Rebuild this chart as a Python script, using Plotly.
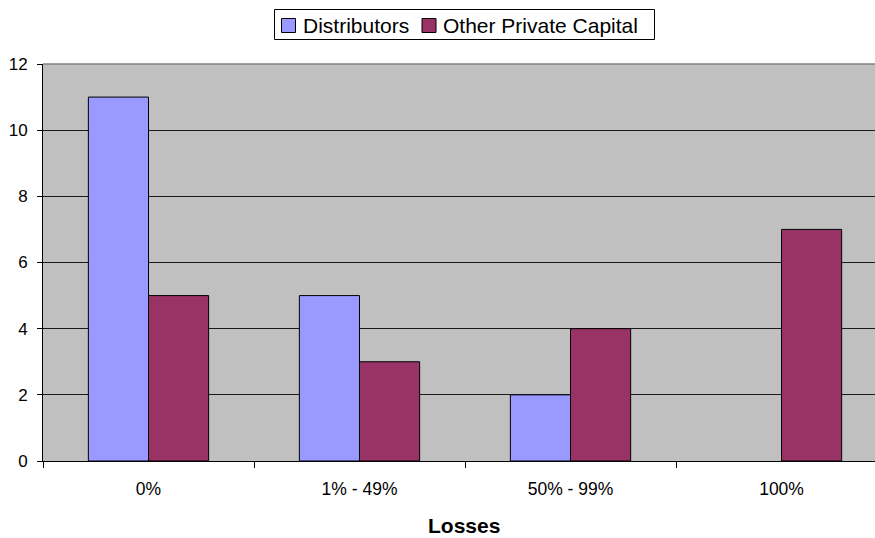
import plotly.graph_objects as go

categories = ["0%", "1% - 49%", "50% - 99%", "100%"]
distributors = [11, 5, 2, 0]
other_private = [5, 3, 4, 7]
series_names = ["Distributors", "Other Private Capital"]
series_colors = ["#9999FF", "#993366"]
y_ticks = [0, 2, 4, 6, 8, 10, 12]

W, H = 875, 538
ML, MR, MT, MB = 43, 0, 64, 77
PW, PH = W - ML - MR, H - MT - MB


def px_x(x):
    return (x - ML) / PW


def px_y(y):
    return (H - MB - y) / PH


fig = go.Figure()
for name, color, vals in zip(series_names, series_colors, [distributors, other_private]):
    fig.add_trace(go.Bar(
        name=name, x=categories, y=vals,
        marker=dict(color=color,
                    line=dict(color="#000000", width=[1 if v > 0 else 0 for v in vals])),
        showlegend=False,
    ))

# Legend box with square swatches, drawn in pixel positions
shapes = [
    dict(type="rect", xref="paper", yref="paper",
         x0=px_x(274.5), x1=px_x(654.5), y0=px_y(9.5), y1=px_y(39.5),
         line=dict(color="#000000", width=1), fillcolor="#FFFFFF", layer="above"),
    dict(type="line", xref="paper", yref="paper", x0=0, x1=1, y0=1, y1=1,
         line=dict(color="#808080", width=1.5)),
]
annotations = []
swatch_x = [281.5, 422]
text_x = [301, 441]
for sx, tx, name, color in zip(swatch_x, text_x, series_names, series_colors):
    shapes.append(dict(type="rect", xref="paper", yref="paper",
                       x0=px_x(sx), x1=px_x(sx + 14), y0=px_y(18.5), y1=px_y(32.5),
                       line=dict(color="#000000", width=1), fillcolor=color, layer="above"))
    annotations.append(dict(text=name, xref="paper", yref="paper",
                            x=px_x(tx), y=px_y(25), xanchor="left", yanchor="middle",
                            showarrow=False, font=dict(size=21)))

annotations.append(dict(text="<b>Losses</b>", xref="paper", yref="paper",
                        x=px_x(464), y=px_y(525), xanchor="center", yanchor="middle",
                        showarrow=False, font=dict(size=21)))

fig.update_layout(
    width=W, height=H,
    margin=dict(l=ML, r=MR, t=MT, b=MB),
    paper_bgcolor="#FFFFFF",
    plot_bgcolor="#C0C0C0",
    barmode="group",
    bargap=0.43,
    bargroupgap=0,
    font=dict(family="Liberation Sans, Arial, sans-serif", size=17, color="#000000"),
    xaxis=dict(
        type="category",
        range=[-0.5, 3.443],
        tickson="boundaries",
        ticks="outside", ticklen=6, tickcolor="#000000",
        showline=True, linecolor="#000000", linewidth=1,
        showgrid=False,
        tickfont=dict(size=17.5),
        ticklabelstandoff=12,
    ),
    yaxis=dict(
        range=[0, 12],
        tickvals=y_ticks,
        ticks="outside", ticklen=5, tickcolor="#000000",
        showline=True, linecolor="#000000", linewidth=1,
        showgrid=True, gridcolor="#1a1a1a", gridwidth=1,
        zeroline=False,
        tickfont=dict(size=17),
        ticklabelstandoff=6,
    ),
    shapes=shapes,
    annotations=annotations,
)

fig.write_html("out.html")
